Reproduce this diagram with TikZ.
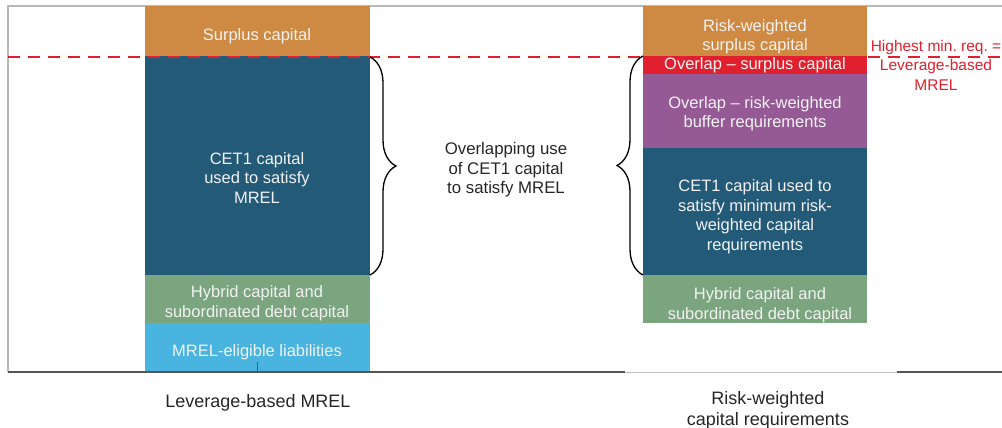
\documentclass[tikz,border=0pt]{standalone}
\usepackage{fontspec}
\setmainfont{Liberation Sans}
\usetikzlibrary{decorations.pathreplacing}
\definecolor{cOrange}{HTML}{CE8A42}
\definecolor{cNavy}{HTML}{235A78}
\definecolor{cGreen}{HTML}{7BA57E}
\definecolor{cSky}{HTML}{4AB4E0}
\definecolor{cRed}{HTML}{E0202E}
\definecolor{cPurple}{HTML}{955A95}
\definecolor{cText}{HTML}{F2F2F2}
\definecolor{cAxis}{HTML}{555555}
\definecolor{cFrame}{HTML}{B8B8B8}
\begin{document}
\begin{tikzpicture}[x=1pt,y=-1pt,
  layer/.style={anchor=north west, inner sep=0pt, outer sep=0pt, draw=none},
  boxtext/.style={text=cText, align=center, inner sep=0pt, font=\fontsize{16.5}{19.5}\selectfont},
  plain/.style={text=black!85, align=center, inner sep=0pt, font=\fontsize{16.8}{19.5}\selectfont},
  redtext/.style={text=cRed, align=center, inner sep=0pt, font=\fontsize{15.5}{19.5}\selectfont},
  bracestyle/.style={draw=black, line width=1.3pt,
    decorate, decoration={brace, amplitude=26pt, aspect=0.5}},
]
\useasboundingbox (0,0) rectangle (1002,428);

% outer frame
\draw[cFrame, line width=1.2pt] (8,372) -- (8,6) -- (1002,6);

% leverage-based stack
\node[layer, fill=cOrange, minimum width=225pt, minimum height=50pt] (lsur) at (145,6) {};
\node[layer, fill=cNavy,   minimum width=225pt, minimum height=219pt] (lcet) at (145,56) {};
\node[layer, fill=cGreen,  minimum width=225pt, minimum height=48pt] (lhyb) at (145,275) {};
\node[layer, fill=cSky,    minimum width=225pt, minimum height=49pt] (lmrel) at (145,323) {};

% risk-weighted stack
\node[layer, fill=cOrange, minimum width=224pt, minimum height=50pt] (rsur) at (643,6) {};
\node[layer, fill=cRed,    minimum width=224pt, minimum height=18pt] (rover) at (643,56) {};
\node[layer, fill=cPurple, minimum width=224pt, minimum height=74pt] (rbuf) at (643,74) {};
\node[layer, fill=cNavy,   minimum width=224pt, minimum height=127pt] (rcet) at (643,148) {};
\node[layer, fill=cGreen,  minimum width=224pt, minimum height=48pt] (rhyb) at (643,275) {};

% axis
\draw[cAxis, line width=1.8pt] (8,372) -- (625,372);
\draw[cAxis!40, line width=1pt] (625,372) -- (897,372);
\draw[cAxis, line width=1.8pt] (897,372) -- (1002,372);
\coordinate (tickTop) at (257,362);
\coordinate (tickBot) at (257,372);
\draw[cAxis, line width=0.6pt] (tickTop) -- (tickBot);

% threshold line
\coordinate (dashL) at (8,57);
\coordinate (dashR) at (1002,57);
\draw[cRed, line width=2.2pt, dash pattern=on 12pt off 8pt] (dashL) -- (dashR);

% braces
\draw[bracestyle] (lcet.north east) ++(0,1) -- (lcet.south east);
\draw[bracestyle] (rcet.south west) -- (rover.north west) ++(0,1);

% texts inside boxes
\node[boxtext] at (257,36) {Surplus capital};
\node[boxtext] at (257,178) {CET1 capital\\used to satisfy\\MREL};
\node[boxtext] at (257,303) {Hybrid capital and\\subordinated debt capital};
\node[boxtext] at (257,352) {MREL-eligible liabilities};

\node[boxtext] at (755,36.5) {Risk-weighted\\surplus capital};
\node[boxtext] at (755,65) {Overlap -- surplus capital};
\node[boxtext] at (755,113.5) {Overlap -- risk-weighted\\buffer requirements};
\node[boxtext] at (755,216.5) {CET1 capital used to\\satisfy minimum risk-\\weighted capital\\requirements};
\node[boxtext] at (760,305) {Hybrid capital and\\subordinated debt capital};

% free labels
\node[plain] (mid) at (506,170) {Overlapping use\\of CET1 capital\\to satisfy MREL};
\node[plain, font=\fontsize{18}{21}\selectfont] (lev) at (258,403) {Leverage-based MREL};
\node[plain, font=\fontsize{18}{21}\selectfont] (rwc) at (768,410) {Risk-weighted\\capital requirements};
\node[redtext] (hmr) at (936,65) {Highest min.\ req.\ =\\Leverage-based\\MREL};
\end{tikzpicture}
\end{document}
